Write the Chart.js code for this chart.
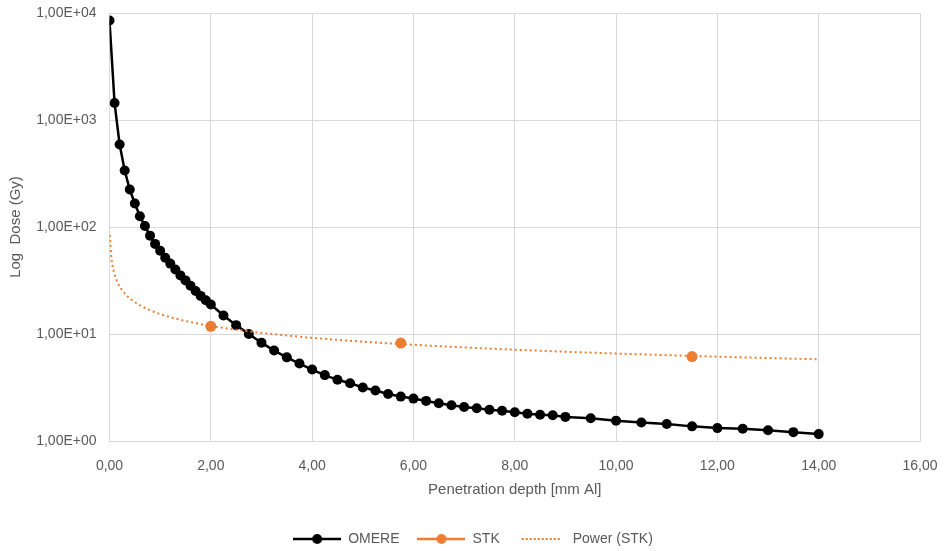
<!DOCTYPE html>
<html>
<head>
<meta charset="utf-8">
<script src="https://cdn.jsdelivr.net/npm/chart.js@4/dist/chart.umd.min.js"></script>
<style>
  html, body { margin: 0; padding: 0; background: #fff; }
  #wrap { width: 946px; height: 551px; }
</style>
</head>
<body>
<div id="wrap"><canvas id="doseChart" width="946" height="551"></canvas></div>
<script>
// OMERE dose-depth curve
const omereDepth = [0, 0.1, 0.2, 0.3, 0.4, 0.5, 0.6, 0.7, 0.8, 0.9, 1.0, 1.1, 1.2, 1.3, 1.4, 1.5, 1.6, 1.7, 1.8, 1.9, 2.0,
  2.25, 2.5, 2.75, 3.0, 3.25, 3.5, 3.75, 4.0, 4.25, 4.5, 4.75, 5.0, 5.25, 5.5, 5.75, 6.0, 6.25, 6.5, 6.75, 7.0,
  7.25, 7.5, 7.75, 8.0, 8.25, 8.5, 8.75, 9.0, 9.5, 10.0, 10.5, 11.0, 11.5, 12.0, 12.5, 13.0, 13.5, 14.0];
const omereDose = [8500, 1440, 590, 337, 224, 166, 126, 102, 83, 69.5, 60, 51.5, 45.5, 40, 35.3, 31.7, 28.2, 25.2, 22.7, 20.7, 18.9,
  14.9, 12.1, 10.0, 8.3, 7.0, 6.05, 5.3, 4.65, 4.13, 3.73, 3.47, 3.16, 2.96, 2.75, 2.60, 2.49, 2.37, 2.25, 2.16, 2.08,
  2.02, 1.96, 1.92, 1.86, 1.80, 1.76, 1.74, 1.68, 1.63, 1.55, 1.49, 1.44, 1.37, 1.32, 1.30, 1.26, 1.21, 1.16];

// STK points
const stkDepth = [2.0, 5.75, 11.5];
const stkDose = [11.8, 8.23, 6.16];

// axis ticks
const yTicks = [1, 10, 100, 1000, 10000];
const trendRange = [0.01, 14];

const grey = "#595959";
const gridGrey = "#d9d9d9";
const orange = "#ed7d31";

// power trendline (least squares in log-log), like the spreadsheet's "Power" trend
function powerFit(xs, ys) {
  const lx = xs.map(Math.log), ly = ys.map(Math.log);
  const n = xs.length;
  const mx = lx.reduce((a, b) => a + b, 0) / n;
  const my = ly.reduce((a, b) => a + b, 0) / n;
  let sxy = 0, sxx = 0;
  for (let i = 0; i < n; i++) {
    sxy += (lx[i] - mx) * (ly[i] - my);
    sxx += (lx[i] - mx) * (lx[i] - mx);
  }
  const b = sxy / sxx;
  const a = Math.exp(my - b * mx);
  return x => a * Math.pow(x, b);
}
const trend = powerFit(stkDepth, stkDose);
const trendPts = [];
for (let i = 0; i <= 200; i++) {
  const x = trendRange[0] * Math.pow(trendRange[1] / trendRange[0], i / 200);
  trendPts.push({ x: x, y: trend(x) });
}

function legendIcon(color, dotted, dot) {
  const c = document.createElement("canvas");
  c.width = 48; c.height = 12;
  const g = c.getContext("2d");
  g.strokeStyle = color;
  if (dotted) {
    g.lineWidth = 2;
    g.setLineDash([2, 2]);
    g.beginPath(); g.moveTo(4, 6); g.lineTo(44, 6); g.stroke();
  } else {
    g.lineWidth = 2.5;
    g.beginPath(); g.moveTo(0, 6); g.lineTo(48, 6); g.stroke();
  }
  if (dot) {
    g.fillStyle = color;
    g.beginPath(); g.arc(24, 6, 5, 0, Math.PI * 2); g.fill();
  }
  return c;
}

function sci(v) {
  const e = Math.round(Math.log10(v));
  const m = v / Math.pow(10, e);
  return m.toFixed(2).replace(".", ",") + "E" + (e < 0 ? "-" : "+") + String(Math.abs(e)).padStart(2, "0");
}

const ctx = document.getElementById("doseChart").getContext("2d");
new Chart(ctx, {
  type: "scatter",
  data: {
    datasets: [
      {
        label: "OMERE",
        data: omereDepth.map((x, i) => ({ x: x, y: omereDose[i] })),
        showLine: true,
        borderColor: "#000",
        backgroundColor: "#000",
        borderWidth: 2.5,
        pointRadius: 5,
        pointBorderWidth: 0,
        pointHoverRadius: 5,
        pointStyle: "circle",
        order: 2,
      },
      {
        label: "STK",
        data: stkDepth.map((x, i) => ({ x: x, y: stkDose[i] })),
        showLine: false,
        borderColor: orange,
        backgroundColor: orange,
        pointRadius: 5.5,
        pointBorderWidth: 0,
        pointHoverRadius: 5.5,
        pointStyle: "circle",
        order: 1,
      },
      {
        label: "Power (STK)",
        data: trendPts,
        showLine: true,
        borderColor: orange,
        borderWidth: 2,
        borderDash: [2, 3],
        pointRadius: 0,
        order: 0,
      },
    ],
  },
  options: {
    responsive: false,
    animation: false,
    layout: { padding: { top: 13, right: 26, left: 26, bottom: -5 } },
    plugins: {
      tooltip: { enabled: false },
      legend: {
        position: "bottom",
        labels: {
          usePointStyle: true,
          pointStyleWidth: 48,
          padding: 18,
          color: grey,
          font: { family: "Liberation Sans", size: 14 },
          generateLabels: chart => [
            { text: "OMERE", pointStyle: legendIcon("#000", false, true), fontColor: grey, lineWidth: 0, datasetIndex: 0 },
            { text: "STK", pointStyle: legendIcon(orange, false, true), fontColor: grey, lineWidth: 0, datasetIndex: 1 },
            { text: "Power (STK)", pointStyle: legendIcon(orange, true, false), fontColor: grey, lineWidth: 0, datasetIndex: 2 },
          ],
        },
      },
    },
    scales: {
      x: {
        type: "linear",
        min: 0,
        max: 16,
        ticks: {
          stepSize: 2,
          color: grey,
          padding: 17,
          font: { family: "Liberation Sans", size: 14 },
          callback: v => v.toFixed(2).replace(".", ","),
        },
        grid: { color: gridGrey, drawTicks: false },
        border: { color: gridGrey },
        title: {
          display: true,
          text: "Penetration depth [mm Al]",
          color: grey,
          font: { family: "Liberation Sans", size: 15 },
          padding: { top: 0, bottom: 15 },
        },
        afterFit: s => { s.height = 73; s.paddingLeft = 0; s.paddingRight = 0; },
      },
      y: {
        type: "logarithmic",
        min: 1,
        max: 10000,
        afterBuildTicks: s => { s.ticks = yTicks.map(v => ({ value: v })); },
        ticks: {
          color: grey,
          padding: 13,
          font: { family: "Liberation Sans", size: 14 },
          callback: v => sci(v),
        },
        grid: { color: gridGrey, drawTicks: false },
        border: { color: gridGrey },
        title: {
          display: true,
          text: "Log  Dose (Gy)",
          color: grey,
          font: { family: "Liberation Sans", size: 15 },
          padding: { top: -19, bottom: 0 },
        },
        afterFit: s => { s.width = 83.5; s.paddingTop = 0; s.paddingBottom = 0; },
      },
    },
  },
});
</script>
</body>
</html>
